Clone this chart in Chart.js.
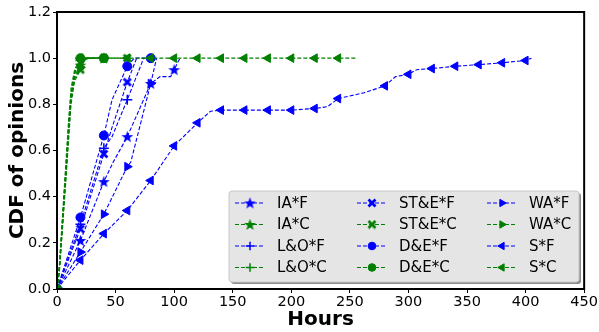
<!DOCTYPE html>
<html>
<head>
<meta charset="utf-8">
<script src="https://cdn.jsdelivr.net/npm/chart.js@4.4.0/dist/chart.umd.min.js"></script>
<style>
  html, body { margin: 0; padding: 0; background: #fff; }
</style>
</head>
<body>
<canvas id="cdfChart" width="599" height="332"></canvas>
<script>
// tick labels
const xTicks = [0, 50, 100, 150, 200, 250, 300, 350, 400, 450];
const yTicks = [0.0, 0.2, 0.4, 0.6, 0.8, 1.0, 1.2];

// series names (legend order, matplotlib plot order)
const seriesNames = ['IA*F', 'IA*C', 'L&O*F', 'L&O*C', 'ST&E*F', 'ST&E*C', 'D&E*F', 'D&E*C', 'WA*F', 'WA*C', 'S*F', 'S*C'];

// hours / CDF
const hoursIAF = [0, 20, 40, 48, 60, 80, 88, 97, 100, 105];
const cdfIAF   = [0, 0.21, 0.465, 0.55, 0.66, 0.89, 0.92, 0.92, 0.95, 1.0];
const hoursIAC = [0, 2, 5, 8, 10, 12, 15, 20, 25, 40];
const cdfIAC   = [0, 0.08, 0.30, 0.52, 0.68, 0.82, 0.92, 0.97, 1.0, 1.0];

const hoursLOF = [0, 20, 40, 47, 60, 74];
const cdfLOF   = [0, 0.28, 0.61, 0.66, 0.82, 1.0];
const hoursLOC = [0, 2, 5, 8, 10, 12, 15, 20, 30];
const cdfLOC   = [0, 0.10, 0.33, 0.56, 0.72, 0.85, 0.94, 0.99, 1.0];

const hoursSTEF = [0, 20, 40, 47, 60, 68];
const cdfSTEF   = [0, 0.26, 0.585, 0.70, 0.896, 1.0];
const hoursSTEC = [0, 2, 5, 8, 10, 12, 15, 20, 23, 40, 60];
const cdfSTEC   = [0, 0.07, 0.28, 0.50, 0.65, 0.80, 0.90, 0.95, 1.0, 1.0, 1.0];

const hoursDEF = [0, 20, 40, 47, 60, 66, 80];
const cdfDEF   = [0, 0.31, 0.665, 0.82, 0.965, 1.0, 1.0];
const hoursDEC = [0, 2, 5, 8, 10, 12, 15, 20, 40];
const cdfDEC   = [0, 0.09, 0.32, 0.55, 0.70, 0.84, 0.93, 1.0, 1.0];

const hoursWAF = [0, 20, 40, 60, 63, 80, 85];
const cdfWAF   = [0, 0.16, 0.324, 0.53, 0.55, 0.89, 1.0];
const hoursWAC = [0, 2, 5, 8, 10, 12, 15, 20, 25, 40];
const cdfWAC   = [0, 0.08, 0.30, 0.53, 0.69, 0.83, 0.91, 0.96, 1.0, 1.0];

const hoursSF = [0, 20, 40, 60, 80, 100, 120, 131, 140, 160, 180, 200, 220, 231, 240, 262, 280, 289, 300, 307, 320, 340, 360, 380, 400, 405];
const cdfSF   = [0, 0.125, 0.24, 0.34, 0.47, 0.62, 0.72, 0.77, 0.775, 0.775, 0.775, 0.775, 0.782, 0.79, 0.825, 0.85, 0.88, 0.92, 0.93, 0.95, 0.955, 0.965, 0.972, 0.98, 0.99, 1.0];
const hoursSC = [0, 2, 5, 8, 10, 12, 15, 20, 40, 60, 80, 100, 120, 140, 160, 180, 200, 220, 240, 255];
const cdfSC   = [0, 0.10, 0.34, 0.58, 0.74, 0.87, 0.95, 1.0, 1.0, 1.0, 1.0, 1.0, 1.0, 1.0, 1.0, 1.0, 1.0, 1.0, 1.0, 1.0];

const allHours = [hoursIAF, hoursIAC, hoursLOF, hoursLOC, hoursSTEF, hoursSTEC, hoursDEF, hoursDEC, hoursWAF, hoursWAC, hoursSF, hoursSC];
const allCdf   = [cdfIAF, cdfIAC, cdfLOF, cdfLOC, cdfSTEF, cdfSTEC, cdfDEF, cdfDEC, cdfWAF, cdfWAC, cdfSF, cdfSC];

const BLUE = '#0000ff';
const GREEN = '#008000';

// filled star / filled X markers (not in Chart.js)
function makeStar(color) {
    const c = document.createElement('canvas');
    c.width = 13; c.height = 13;
    const g = c.getContext('2d');
    g.fillStyle = color;
    g.beginPath();
    for (let i = 0; i < 10; i++) {
        const r = i % 2 === 0 ? 6.2 : 2.6;
        const a = -Math.PI / 2 + i * Math.PI / 5;
        g.lineTo(6.5 + r * Math.cos(a), 7 + r * Math.sin(a));
    }
    g.closePath();
    g.fill();
    return c;
}

function makeX(color) {
    const c = document.createElement('canvas');
    c.width = 10; c.height = 10;
    const g = c.getContext('2d');
    g.strokeStyle = color;
    g.lineWidth = 2.8;
    g.beginPath();
    g.moveTo(1.5, 1.5); g.lineTo(8.5, 8.5);
    g.moveTo(8.5, 1.5); g.lineTo(1.5, 8.5);
    g.stroke();
    return c;
}

const markerFor = {
    IA:   (col) => ({ pointStyle: makeStar(col), r: 5, rot: 0 }),
    LO:   (col) => ({ pointStyle: 'cross', r: 5, rot: 0 }),
    STE:  (col) => ({ pointStyle: makeX(col), r: 5, rot: 0 }),
    DE:   (col) => ({ pointStyle: 'circle', r: 4.5, rot: 0 }),
    WA:   (col) => ({ pointStyle: 'triangle', r: 5, rot: 90 }),
    S:    (col) => ({ pointStyle: 'triangle', r: 5, rot: -90 })
};
const markerKeys = ['IA', 'IA', 'LO', 'LO', 'STE', 'STE', 'DE', 'DE', 'WA', 'WA', 'S', 'S'];

const datasets = seriesNames.map((name, i) => {
    const col = i % 2 === 0 ? BLUE : GREEN;
    const m = markerFor[markerKeys[i]](col);
    return {
        label: name,
        data: allHours[i].map((h, k) => ({ x: h, y: allCdf[i][k] })),
        borderColor: col,
        backgroundColor: col,
        borderWidth: 1.1,
        borderDash: [4, 2],
        pointStyle: m.pointStyle,
        rotation: m.rot,
        pointBorderWidth: m.pointStyle === 'cross' ? 1.5 : 1,
        pointRadius: (ctx) => (ctx.raw && ctx.raw.x % 20 === 0 ? m.r : 0),
        pointHoverRadius: 0,
        tension: 0,
        order: seriesNames.length - i,
        _marker: m
    };
});

const frameAndLegend = {
    id: 'frameAndLegend',
    afterDatasetsDraw(chart) {
        const { ctx, chartArea: a } = chart;
        ctx.save();
        ctx.strokeStyle = '#000';
        ctx.lineWidth = 2;
        ctx.strokeRect(a.left, a.top, a.right - a.left, a.bottom - a.top);

        // legend box
        const bx = 229, by = 191, bw = 350, bh = 91;
        ctx.fillStyle = '#8c8c8c';
        ctx.beginPath(); ctx.roundRect(bx + 2, by + 2, bw, bh, 3); ctx.fill();
        ctx.fillStyle = '#e5e5e5';
        ctx.strokeStyle = '#c8c8c8';
        ctx.lineWidth = 1;
        ctx.beginPath(); ctx.roundRect(bx, by, bw, bh, 3); ctx.fill(); ctx.stroke();

        const colX = [235, 357, 487];
        const rowY = [203, 224.5, 246, 267.5];
        ctx.font = '15px "DejaVu Sans"';
        ctx.textBaseline = 'middle';
        chart.data.datasets.forEach((ds, i) => {
            const c = Math.floor(i / 4), r = i % 4;
            const x = colX[c], y = rowY[r];
            ctx.strokeStyle = ds.borderColor;
            ctx.fillStyle = ds.borderColor;
            ctx.lineWidth = 1.1;
            ctx.setLineDash([4, 2]);
            ctx.beginPath(); ctx.moveTo(x, y); ctx.lineTo(x + 30, y); ctx.stroke();
            ctx.setLineDash([]);
            ctx.lineWidth = ds.pointBorderWidth;
            Chart.helpers.drawPoint(ctx, {
                pointStyle: ds._marker.pointStyle,
                radius: ds._marker.r * 0.85,
                rotation: ds._marker.rot,
                borderWidth: ds.pointBorderWidth
            }, x + 15, y);
            ctx.fillStyle = '#000';
            ctx.fillText(ds.label, x + 42, y + 1);
        });
        ctx.restore();
    }
};

new Chart(document.getElementById('cdfChart').getContext('2d'), {
    type: 'line',
    data: { datasets: datasets },
    options: {
        responsive: false,
        animation: false,
        events: [],
        layout: { padding: { top: 12, right: 14, left: 0, bottom: 0 } },
        plugins: { legend: { display: false }, tooltip: { enabled: false } },
        scales: {
            x: {
                type: 'linear',
                min: 0, max: 450,
                afterFit: (s) => { s.height = 43; },
                afterBuildTicks: (s) => { s.ticks = xTicks.map(v => ({ value: v })); },
                ticks: { color: '#000', font: { family: 'DejaVu Sans', size: 14.5 }, padding: 1, maxRotation: 0, callback: (v) => String(v) },
                grid: { drawOnChartArea: false, drawTicks: true, tickLength: 4, color: '#000' },
                border: { color: '#000', width: 2 },
                title: { display: true, text: 'Hours', color: '#000', font: { family: 'DejaVu Sans', size: 20, weight: 'bold' }, padding: { top: 2, bottom: 0 } }
            },
            y: {
                min: 0, max: 1.2,
                afterFit: (s) => { s.width = 57; },
                afterBuildTicks: (s) => { s.ticks = yTicks.map(v => ({ value: v })); },
                ticks: { color: '#000', font: { family: 'DejaVu Sans', size: 14.5 }, padding: 2, callback: (v) => v.toFixed(1) },
                grid: { drawOnChartArea: false, drawTicks: true, tickLength: 4, color: '#000' },
                border: { color: '#000', width: 2 },
                title: { display: true, text: 'CDF of opinions', color: '#000', font: { family: 'DejaVu Sans', size: 20, weight: 'bold' }, padding: { top: 6, bottom: 0 } }
            }
        }
    },
    plugins: [frameAndLegend]
});
</script>
</body>
</html>
